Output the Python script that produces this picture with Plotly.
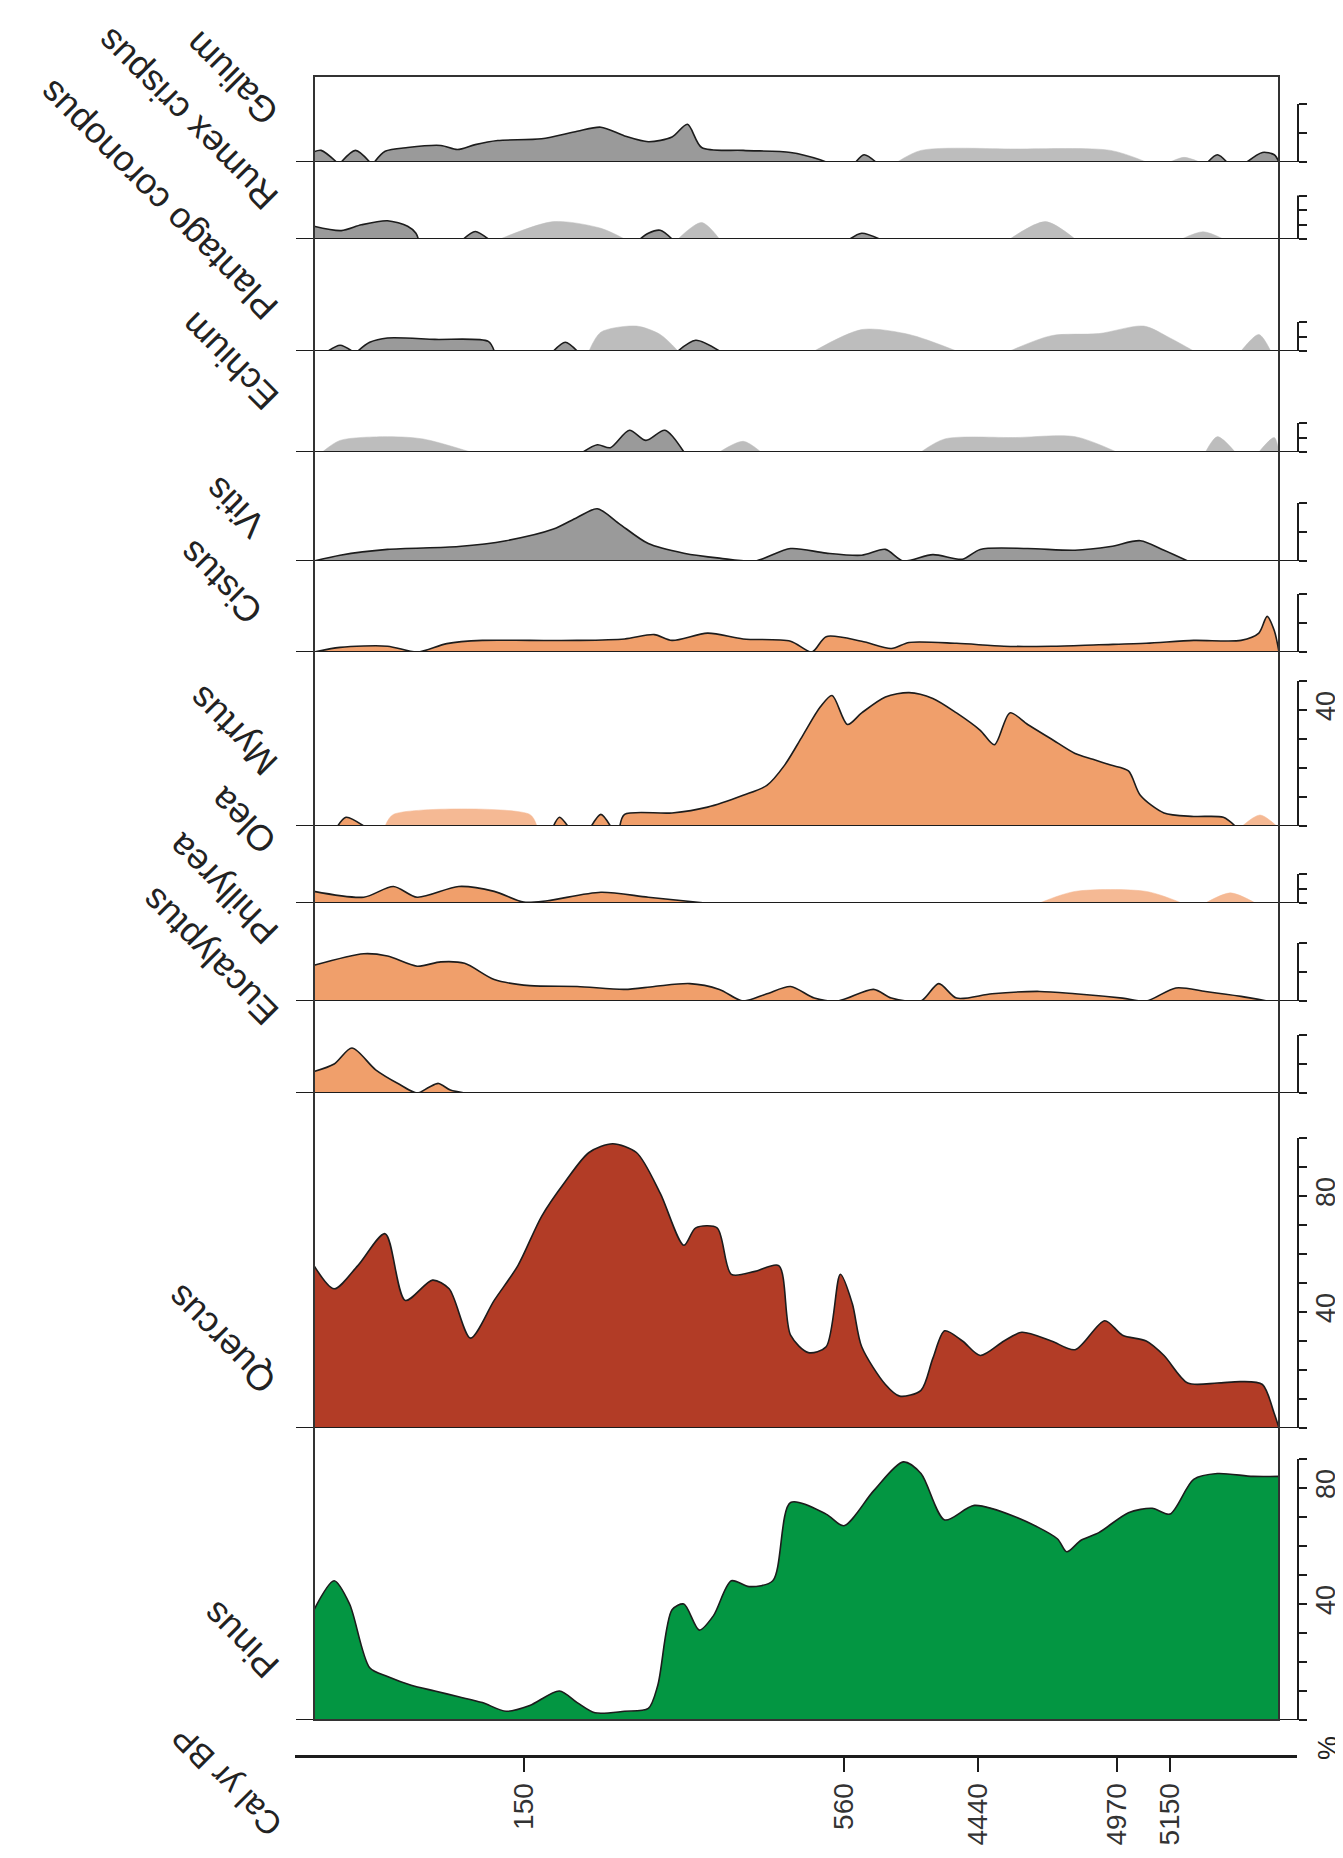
import plotly.graph_objects as go

# ---------------- data ----------------
DEPTH_MAX = 814  # core position (arbitrary depth units, top of core = 0)
AGE_TICK_DEPTHS = [177, 447, 560, 677, 722]
AGE_TICK_LABELS = ["150", "560", "4440", "4970", "5150"]

TAXA = ["Galium", "Rumex crispus", "Plantago coronopus", "Echium", "Vitis", "Cistus",
        "Myrtus", "Olea", "Phillyrea", "Eucalyptus", "Quercus", "Pinus"]
SCALE_MAX = [20, 15, 10, 10, 20, 20, 50, 10, 20, 20, 100, 90]
GROUP = ["herb", "herb", "herb", "herb", "herb", "shrub", "shrub", "shrub", "shrub", "shrub",
         "quercus", "pinus"]

galium_depth = [0, 6, 19, None, 23, 35, 47, None, 51, 60, 79, 107, 121, 136, 155, 192, 222, 242, 262,
                282, 302, 315, 327, 362, 402, 427, 432, None, 457, 464, 474, None, 754, 762, 770,
                None, 787, 800, 810, 814]
galium_pct = [3.5, 4, 0, None, 0, 4, 0, None, 0, 3.7, 5, 5.7, 4.3, 6, 7.4, 8, 10.6, 12, 9,
              7, 8.6, 13, 5, 4, 3.3, 0.8, 0, None, 0, 2.5, 0, None, 0, 2.5, 0,
              None, 0, 3.3, 2.5, 0]
galium_pale_depth = [492, 512, 592, 672, 702, None, 722, 734, 747]
galium_pale_pct = [0, 4, 4.5, 4, 0, None, 0, 1.6, 0]

rumex_depth = [0, 23, 40, 62, 79, 86, 88, None, 126, 136, 147, None, 275, 282, 292, 302,
               None, 452, 462, 477]
rumex_pct = [4.4, 2.9, 4.9, 6.3, 4.4, 2, 0, None, 0, 2.6, 0, None, 0, 2, 3, 0,
             None, 0, 2, 0]
rumex_pale_depth = [157, 202, 242, 262, None, 307, 327, 342, None, 587, 617, 642, None, 732, 750, 767]
rumex_pale_pct = [0, 6, 3.7, 0, None, 0, 5.7, 0, None, 0, 6, 0, None, 0, 2.5, 0]

plantago_depth = [12, 22, 32, None, 37, 47, 62, 102, 147, 152, None, 202, 212, 222,
                  None, 307, 322, 342]
plantago_pct = [0, 2, 0, None, 0, 3, 4.5, 4, 3.3, 0, None, 0, 3, 0, None, 0, 3.7, 0]
plantago_pale_depth = [232, 242, 272, 292, 307, None, 422, 462, 502, 542, None,
                       587, 622, 662, 700, 722, 742, None, 782, 797, 807]
plantago_pale_pct = [0, 6.5, 8.6, 5.7, 0, None, 0, 7.4, 5.7, 0, None,
                     0, 5.3, 6, 8.6, 4.5, 0, None, 0, 5.7, 0]

echium_depth = [227, 239, 250, 266, 280, 296, 312]
echium_pct = [0, 2.5, 1.5, 7.5, 4, 7.5, 0]
echium_pale_depth = [7, 22, 62, 92, 132, None, 342, 362, 377, None, 512, 532, 592, 642, 677,
                     None, 752, 762, 777, None, 797, 810, 814]
echium_pale_pct = [0, 4, 5.3, 4.5, 0, None, 0, 3.7, 0, None, 0, 4.5, 5, 5.3, 0,
                   None, 0, 5.3, 0, None, 0, 5, 0]

vitis_depth = [0, 22, 62, 122, 162, 202, 222, 239, 257, 282, 312, 342, 372, 402, 432, 462, 482,
               497, 522, 547, 562, 602, 642, 672, 697, 717, 737]
vitis_pct = [0, 2, 4, 5, 7, 11, 15, 18, 13, 6, 2.7, 1, 0, 4.3, 2.7, 2, 4,
             0, 2.2, 0.6, 4, 4.3, 3.7, 5, 7, 3.7, 0]

cistus_depth = [0, 22, 62, 87, 112, 142, 182, 222, 262, 287, 302, 332, 362, 402, 420, 432, 462,
                487, 502, 542, 582, 622, 662, 702, 742, 782, 797, 804, 810, 814]
cistus_pct = [0, 1.6, 2, 0, 2.9, 4, 4, 4, 4.5, 6, 4, 6.5, 4.5, 3.7, 0, 5.3, 3.7,
              1.2, 3.3, 3, 2, 2, 2.5, 3, 4, 4, 6.5, 12.3, 7.4, 0]

myrtus_depth = [20, 27, 42, None, 202, 207, 214, None, 234, 242, 250, None,
                258, 262, 302, 332, 362, 382, 397, 412, 427, 437, 450, 462, 482, 502, 522, 542,
                562, 574, 587, 602, 622, 642, 657, 672, 687, 697, 717, 742, 767, 777]
myrtus_pct = [0, 3, 0, None, 0, 3, 0, None, 0, 4, 0, None,
              0, 4, 4.5, 6.5, 10.6, 14, 21, 31, 41, 45, 35, 39, 44.5, 46, 44, 39,
              33, 28, 39, 35, 30, 25, 23, 21, 19, 10.6, 4.5, 3.3, 3, 0]
myrtus_pale_depth = [60, 67, 182, 188, None, 783, 798, 812]
myrtus_pale_pct = [0, 4, 4, 0, None, 0, 3.8, 0]

olea_depth = [0, 42, 67, 87, 122, 152, 177, 197, 242, 282, 330]
olea_pct = [4, 2, 5.7, 2, 5.7, 4, 0.3, 0.8, 3.7, 2, 0]
olea_pale_depth = [612, 642, 702, 732, None, 752, 773, 794]
olea_pale_pct = [0, 4, 4, 0, None, 0, 3.5, 0]

phillyrea_depth = [0, 42, 62, 87, 107, 127, 152, 182, 222, 262, 287, 317, 342, 362, 382, 402, 422,
                   442, 472, 487, 512, 527, 542, 572, 612, 642, 682, 702, 727, 752, 782, 804]
phillyrea_pct = [12.3, 16.3, 15.5, 12, 13.5, 13, 7.4, 5.3, 5, 4, 5, 6, 4, 0, 2.5, 5, 1,
                 0, 4, 1, 0, 6, 1, 2.5, 3.3, 2.5, 1, 0, 4.5, 3.3, 1.6, 0]

eucalyptus_depth = [0, 17, 32, 52, 72, 87, 97, 105, 115, 127]
eucalyptus_pct = [7.4, 10, 15.5, 8, 3, 0, 2, 3.3, 1, 0]

quercus_depth = [0, 17, 37, 60, 77, 100, 114, 132, 152, 172, 192, 212, 232, 252, 272, 292, 312,
                 322, 340, 352, 372, 392, 402, 417, 432, 444, 454, 462, 482, 494, 512, 522, 532,
                 547, 562, 582, 597, 622, 642, 667, 682, 702, 717, 737, 762, 782, 800, 810, 814]
quercus_pct = [56, 48, 56, 67, 44, 51, 48, 31, 44, 56, 73, 85, 95, 98, 95, 81, 63,
               69, 69, 53, 54, 56, 32, 26, 28, 53, 43, 28, 15, 11, 13, 24, 33.5,
               30, 25, 30, 33, 30, 27, 37, 32, 30, 25, 15.5, 15.5, 16, 15, 5, 0]

pinus_depth = [0, 17, 30, 47, 62, 82, 102, 122, 142, 162, 182, 207, 222, 237, 262, 282, 290, 302,
               312, 325, 337, 352, 367, 387, 402, 432, 447, 472, 497, 512, 532, 557, 592, 627,
               635, 647, 662, 687, 707, 722, 742, 762, 792, 814]
pinus_pct = [38, 48, 40, 18, 15, 12, 10, 8, 6, 3, 5, 10, 6, 2.5, 3, 4, 12, 38,
             40, 31, 36, 48, 46, 48, 75, 71, 67, 79, 89, 85, 69, 74, 70, 62.5,
             58, 62, 64.6, 71.5, 73, 71, 83, 85, 84, 84]

SOLID = [(galium_depth, galium_pct), (rumex_depth, rumex_pct), (plantago_depth, plantago_pct),
         (echium_depth, echium_pct), (vitis_depth, vitis_pct), (cistus_depth, cistus_pct),
         (myrtus_depth, myrtus_pct), (olea_depth, olea_pct), (phillyrea_depth, phillyrea_pct),
         (eucalyptus_depth, eucalyptus_pct), (quercus_depth, quercus_pct), (pinus_depth, pinus_pct)]
PALE = [(galium_pale_depth, galium_pale_pct), (rumex_pale_depth, rumex_pale_pct),
        (plantago_pale_depth, plantago_pale_pct), (echium_pale_depth, echium_pale_pct),
        None, None, (myrtus_pale_depth, myrtus_pale_pct), (olea_pale_depth, olea_pale_pct),
        None, None, None, None]

# ---------------- layout (pixels) ----------------
W, H = 1343, 1858
FRAME_L, FRAME_R, FRAME_T = 306, 1271, 68
PANEL_TOP = [68, 154, 231, 343, 444, 553, 644, 818, 895, 993, 1085, 1420]
PANEL_BASE = [154, 231, 343, 444, 553, 644, 818, 895, 993, 1085, 1420, 1712]
PX_PER_PCT = 2.9
SCALE_X = 1290
AGE_AXIS_L, AGE_AXIS_R, AGE_AXIS_Y = 287, 1289, 1748
LABEL_POS = [(281, 128), (281, 213), (281, 323), (281, 413), (268, 540), (265, 627),
             (280, 778), (279, 857), (281, 947), (281, 1028), (279, 1397), (282, 1681)]

FILL = {"herb": "#9a9a9a", "shrub": "#f09f6b", "quercus": "#b23c26", "pinus": "#039642"}
PALE_FILL = {"herb": "#bdbdbd", "shrub": "#f5b994"}
LINE = "#1c1c1c"
FONT = "Liberation Sans, Arial, sans-serif"


def px_x(p):
    return p / W


def px_y(p):
    return 1 - p / H


def segments(depths, values):
    segs, cx, cy = [], [], []
    for d, v in zip(depths, values):
        if d is None:
            if cx:
                segs.append((cx, cy))
            cx, cy = [], []
        else:
            cx.append(d)
            cy.append(v)
    if cx:
        segs.append((cx, cy))
    return segs


fig = go.Figure()
layout_axes = {}
shapes = []
annotations = []

for i, name in enumerate(TAXA):
    yname = "y" if i == 0 else f"y{i + 1}"
    ykey = "yaxis" if i == 0 else f"yaxis{i + 1}"
    grp = GROUP[i]
    top, base = PANEL_TOP[i], PANEL_BASE[i]
    smax = SCALE_MAX[i]
    step = 5 if smax <= 15 else 10
    tv = list(range(0, smax + 1, step))
    layout_axes[ykey] = dict(
        domain=[px_y(base), px_y(top)],
        range=[0, (base - top) / PX_PER_PCT],
        anchor="free", position=px_x(SCALE_X), side="right",
        showline=False, showgrid=False, zeroline=False,
        ticks="outside", ticklen=8, tickwidth=2, tickcolor=LINE,
        tickvals=tv, ticktext=[str(v) if v in (40, 80) else "" for v in tv],
        tickangle=-90, ticklabelstandoff=-4,
        tickfont=dict(family=FONT, size=27, color="#333"),
        fixedrange=True,
    )
    pale = PALE[i]
    if pale is not None:
        for sx, sy in segments(*pale):
            fig.add_trace(go.Scatter(
                x=sx, y=sy, xaxis="x", yaxis=yname, mode="lines",
                line=dict(color=PALE_FILL[grp], width=0.5, shape="spline", smoothing=0.8),
                fill="tozeroy", fillcolor=PALE_FILL[grp], hoverinfo="skip", showlegend=False))
    for sx, sy in segments(*SOLID[i]):
        fig.add_trace(go.Scatter(
            x=sx, y=sy, xaxis="x", yaxis=yname, mode="lines",
            line=dict(color=LINE, width=1.6, shape="spline", smoothing=0.8),
            fill="tozeroy", fillcolor=FILL[grp], hoverinfo="skip", showlegend=False))
    # baseline of panel
    shapes.append(dict(type="line", xref="paper", yref=yname, x0=px_x(FRAME_L - 18),
                       x1=px_x(SCALE_X + 8), y0=0, y1=0, line=dict(color=LINE, width=2)))
    # percent scale bar
    shapes.append(dict(type="line", xref="paper", yref=yname, x0=px_x(SCALE_X), x1=px_x(SCALE_X),
                       y0=0, y1=smax, line=dict(color=LINE, width=2)))
    lx, ly = LABEL_POS[i]
    annotations.append(dict(text=name, x=px_x(lx), y=px_y(ly), xref="paper", yref="paper",
                            xanchor="right", yanchor="bottom", textangle=-135, showarrow=False,
                            font=dict(family=FONT, size=36, color="#222")))

# outer frame
shapes.append(dict(type="rect", xref="paper", yref="paper", x0=px_x(FRAME_L), x1=px_x(FRAME_R),
                   y0=px_y(PANEL_BASE[-1]), y1=px_y(FRAME_T), line=dict(color="#333", width=2)))

annotations.append(dict(text="Cal yr BP", x=px_x(284), y=px_y(1838), xref="paper", yref="paper",
                        xanchor="right", yanchor="bottom", textangle=-135, showarrow=False,
                        font=dict(family=FONT, size=33, color="#222")))
annotations.append(dict(text="%", x=px_x(1320), y=px_y(1740), xref="paper", yref="paper",
                        xanchor="center", yanchor="middle", textangle=-90, showarrow=False,
                        font=dict(family=FONT, size=27, color="#222")))

depth_per_px = DEPTH_MAX / (FRAME_R - FRAME_L)
fig.update_layout(
    width=W, height=H,
    margin=dict(l=0, r=0, t=0, b=0),
    paper_bgcolor="white", plot_bgcolor="white",
    showlegend=False,
    xaxis=dict(
        domain=[px_x(AGE_AXIS_L), px_x(AGE_AXIS_R)],
        range=[(AGE_AXIS_L - FRAME_L) * depth_per_px, (AGE_AXIS_R - FRAME_L) * depth_per_px],
        anchor="free", position=px_y(AGE_AXIS_Y),
        showline=True, linewidth=3, linecolor=LINE, showgrid=False, zeroline=False,
        ticks="outside", ticklen=14, tickwidth=2, tickcolor=LINE,
        tickvals=AGE_TICK_DEPTHS, ticktext=AGE_TICK_LABELS, tickangle=-90,
        tickfont=dict(family=FONT, size=28, color="#333"), fixedrange=True,
    ),
    shapes=shapes, annotations=annotations,
    **layout_axes,
)

fig.write_html("out.html")
